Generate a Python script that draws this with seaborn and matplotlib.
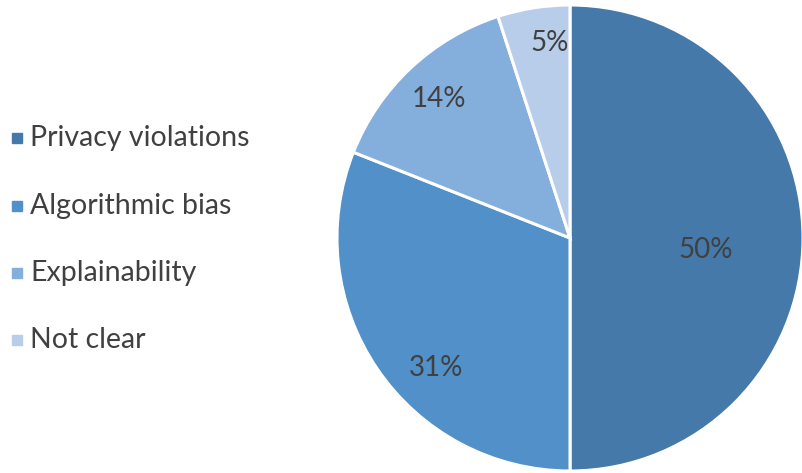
import matplotlib
matplotlib.use("Agg")
import matplotlib.pyplot as plt
import seaborn as sns
import numpy as np

categories = ["Privacy violations", "Algorithmic bias", "Explainability", "Not clear"]
values = [50, 31, 14, 5]
pct_labels = ["50%", "31%", "14%", "5%"]
colors = ["#4579A9", "#5190C8", "#84AEDC", "#B8CDEA"]

sns.set_theme(style="white")
plt.rcParams['font.family'] = ['Lato', 'DejaVu Sans']

fig = plt.figure(figsize=(8.03, 4.73), dpi=100)
ax = fig.add_axes([337/803, 1 - (238 + 233) / 473, 466/803, 466/473])
palette = sns.color_palette(colors)
wedges, _ = ax.pie(values, colors=palette, startangle=90, counterclock=False,
                   wedgeprops=dict(edgecolor="white", linewidth=2.2))
ax.set_xlim(-1, 1); ax.set_ylim(-1, 1)
ax.set_aspect("equal")
# label anchor offsets (radius fraction, angle shift in degrees)
label_r = [0.585, 0.80, 0.82, 0.84]
label_shift = [-5, 10, 0, -3]
for w, lab, r, s in zip(wedges, pct_labels, label_r, label_shift):
    ang = np.deg2rad((w.theta1 + w.theta2) / 2 + s)
    ax.text(r * np.cos(ang), r * np.sin(ang), lab, ha="center", va="center",
            fontsize=20, color="#404040")

leg_y = [138, 206, 273, 340]
for cat, col, y in zip(categories, colors, leg_y):
    fy = 1 - y / 473
    fig.patches.append(plt.Rectangle((12/803, fy - 5/473), 10/803, 10/473,
                                     transform=fig.transFigure, color=col, figure=fig))
    fig.text(30/803, fy, cat, ha="left", va="center", fontsize=20.5, color="#404040")

fig.savefig("out.png", dpi=100)
